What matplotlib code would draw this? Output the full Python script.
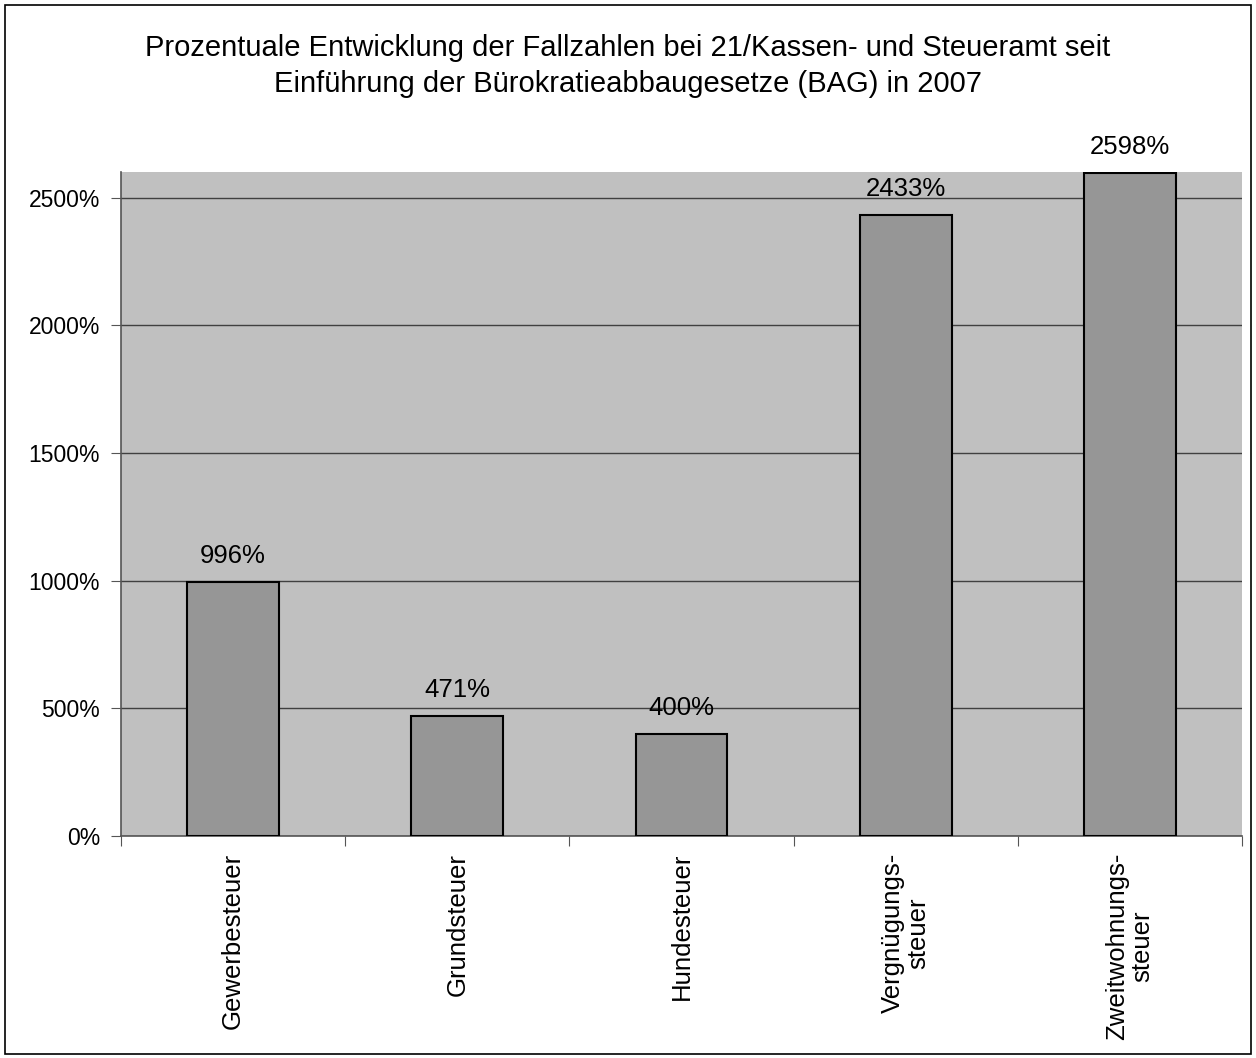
import matplotlib.pyplot as plt
from matplotlib.patches import Rectangle
from matplotlib.ticker import FuncFormatter, MultipleLocator

plt.rcParams['font.family'] = ['Liberation Sans', 'DejaVu Sans']

# Fallzahlen-Entwicklung in Prozent
kategorien = ['Gewerbesteuer', 'Grundsteuer', 'Hundesteuer',
              'Vergnügungs-\nsteuer', 'Zweitwohnungs-\nsteuer']
werte = [996, 471, 400, 2433, 2598]

fig = plt.figure(figsize=(12.56, 10.58), dpi=100)
ax = fig.add_axes([0.0963, 0.2098, 0.8926, 0.6276])

# Rahmen um die ganze Grafik
fig.patches.append(Rectangle((0.004, 0.004), 0.992, 0.991, transform=fig.transFigure,
                             fill=False, edgecolor='black', linewidth=1.2))

x = range(len(werte))
ax.set_facecolor('#c0c0c0')
ax.bar(x, werte, width=0.41, color='#969696', edgecolor='black', linewidth=1.5, zorder=3)

for xi, v in zip(x, werte):
    ax.annotate(f'{v}%', (xi, v), xytext=(0, 10), textcoords='offset points',
                ha='center', va='bottom', fontsize=18.5)

ax.set_xlim(-0.5, len(werte) - 0.5)
ax.set_ylim(0, 2600)
ax.yaxis.set_major_locator(MultipleLocator(500))
ax.yaxis.set_major_formatter(FuncFormatter(lambda v, p: f'{v:.0f}%'))
ax.grid(axis='y', color='#404040', linewidth=1, zorder=1)

# Ticks zwischen den Kategorien, Beschriftung senkrecht
ax.set_xticks([i - 0.5 for i in range(len(werte) + 1)])
ax.set_xticklabels([])
ax.set_xticks(list(x), minor=True)
ax.set_xticklabels(kategorien, minor=True, rotation=90, fontsize=18.5,
                   ha='center', va='top', multialignment='center', linespacing=1.05)
ax.tick_params(axis='x', which='minor', length=0, pad=12)
ax.tick_params(axis='x', which='major', length=7, color='#555555', direction='out')
ax.tick_params(axis='y', length=7, color='#555555', labelsize=16.5, pad=8)

for s in ['top', 'right']:
    ax.spines[s].set_visible(False)
for s in ['left', 'bottom']:
    ax.spines[s].set_color('#555555')
    ax.spines[s].set_linewidth(1.2)

fig.text(0.5, 0.968, 'Prozentuale Entwicklung der Fallzahlen bei 21/Kassen- und Steueramt seit\n'
         'Einführung der Bürokratieabbaugesetze (BAG) in 2007',
         ha='center', va='top', fontsize=21, linespacing=1.38)

fig.savefig('out.png', dpi=100)
